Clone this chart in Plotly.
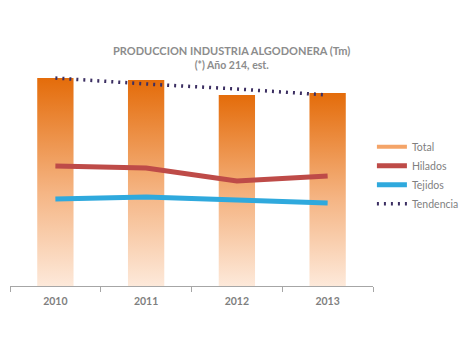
import plotly.graph_objects as go

years = ["2010", "2011", "2012", "2013"]
total = [208, 206, 191, 193]
hilados = [120, 118, 105, 110]
tejidos = [87, 89, 86, 83]
tendencia = [208, 202, 197, 191]

xs = list(range(len(years)))
half_w = 0.2
fig = go.Figure()

for i, v in zip(xs, total):
    fig.add_trace(go.Scatter(
        x=[i - half_w, i + half_w, i + half_w, i - half_w, i - half_w],
        y=[0, 0, v, v, 0],
        mode="lines", line=dict(width=0), fill="toself",
        fillgradient=dict(type="vertical",
                          colorscale=[[0, "#FDE9DA"], [0.45, "#F5B584"], [1, "#E46C0A"]]),
        showlegend=False, hoverinfo="skip"))

# legend entry for Total
fig.add_trace(go.Scatter(x=[None], y=[None], mode="lines", name="Total",
                         line=dict(color="#F4A468", width=4)))
fig.add_trace(go.Scatter(x=xs, y=hilados, mode="lines", name="Hilados",
                         line=dict(color="#BE4B48", width=5)))
fig.add_trace(go.Scatter(x=xs, y=tejidos, mode="lines", name="Tejidos",
                         line=dict(color="#2FA9DD", width=5)))
fig.add_trace(go.Scatter(x=xs, y=tendencia, mode="lines", name="Tendencia",
                         line=dict(color="#3C2F62", width=3.5, dash="2px,5px")))

fig.update_layout(
    width=470, height=350,
    margin=dict(l=10, r=97, t=60, b=64, autoexpand=False),
    paper_bgcolor="white", plot_bgcolor="white",
    font=dict(family="Lato", color="#7F7F7F"),
    title=dict(text="<b>PRODUCCION INDUSTRIA ALGODONERA (Tm)</b><br><span style='font-size:10.5px'><b>(*) Año 214, est.</b></span>",
               x=0.493, xanchor="center", y=0.843, yanchor="middle",
               font=dict(size=11, color="#8C8C8C")),
    xaxis=dict(range=[-0.5, 3.5], tickvals=xs, ticktext=["<b>%s</b>" % y for y in years], ticks="",
               showgrid=False, zeroline=False, showline=True, linecolor="#A6A6A6",
               linewidth=1, tickfont=dict(size=10.5, color="#7F7F7F", family="Lato"),
               ticklabelstandoff=5,
               minor=dict(tickvals=[-0.5, 0.5, 1.5, 2.5, 3.5], ticks="outside",
                          ticklen=5, tickcolor="#A6A6A6", showgrid=False)),
    yaxis=dict(range=[0, 226], visible=False),
    legend=dict(x=0.997, y=0.68, xanchor="left", yanchor="top",
                font=dict(size=10.5, color="#7F7F7F"), tracegroupgap=0,
                itemwidth=30),
    showlegend=True,
)
fig.write_html("out.html")
